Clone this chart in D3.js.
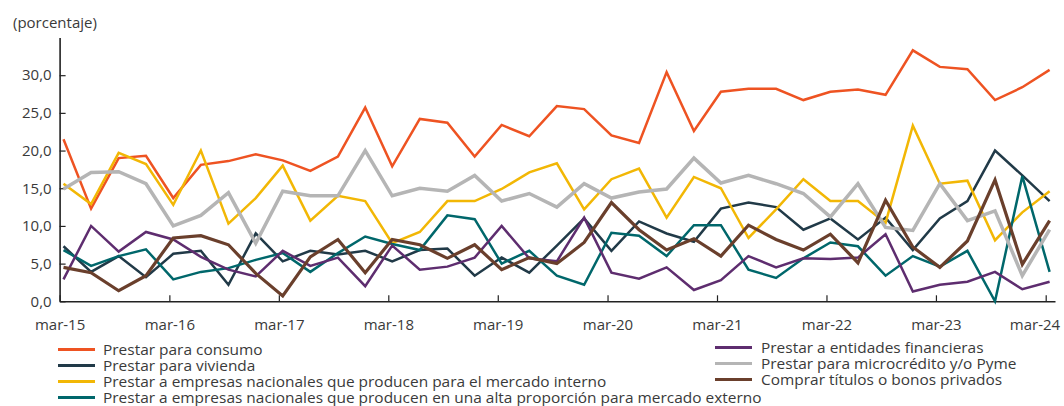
<!DOCTYPE html>
<html>
<head>
<meta charset="utf-8">
<script src="https://cdn.jsdelivr.net/npm/d3@7"></script>
<style>
  body { margin: 0; background: #fff; }
  svg { display: block; font-family: "Open Sans", sans-serif; }
</style>
</head>
<body>
<svg id="chart" width="1064" height="406"></svg>
<script>
// quarterly observations (mar, jun, sep, dec)
const quarters = [
  '2015-03', '2015-06', '2015-09', '2015-12',
  '2016-03', '2016-06', '2016-09', '2016-12',
  '2017-03', '2017-06', '2017-09', '2017-12',
  '2018-03', '2018-06', '2018-09', '2018-12',
  '2019-03', '2019-06', '2019-09', '2019-12',
  '2020-03', '2020-06', '2020-09', '2020-12',
  '2021-03', '2021-06', '2021-09', '2021-12',
  '2022-03', '2022-06', '2022-09', '2022-12',
  '2023-03', '2023-06', '2023-09', '2023-12',
  '2024-03'
];

const consumo = [21.5, 12.3, 19.0, 19.3, 13.7, 18.1, 18.6, 19.5, 18.7, 17.3, 19.2,
  25.7, 17.9, 24.2, 23.7, 19.2, 23.4, 21.9, 25.9, 25.5, 22.0, 21.0, 30.4, 22.6,
  27.8, 28.2, 28.2, 26.7, 27.8, 28.1, 27.4, 33.3, 31.1, 30.8, 26.7, 28.4, 30.7];

const vivienda = [7.3, 3.9, 6.0, 3.2, 6.3, 6.7, 2.2, 9.0, 5.3, 6.7, 6.2,
  6.7, 5.3, 6.8, 7.0, 3.4, 5.8, 3.8, 7.4, 11.0, 6.7, 10.6, 9.0, 7.9,
  12.3, 13.1, 12.5, 9.5, 11.0, 8.2, 11.1, 6.8, 11.0, 13.3, 20.0, 16.7, 13.3];

const interno = [15.6, 12.9, 19.7, 18.2, 12.8, 20.0, 10.3, 13.7, 18.0, 10.7, 14.0,
  13.3, 7.7, 9.2, 13.3, 13.3, 14.9, 17.1, 18.3, 12.2, 16.2, 17.6, 11.1, 16.5,
  15.0, 8.4, 12.2, 16.2, 13.3, 13.3, 10.4, 23.3, 15.6, 16.0, 8.1, 11.8, 14.6];

const externo = [6.8, 4.7, 6.0, 6.9, 2.9, 3.9, 4.4, 5.5, 6.4, 3.9, 6.4,
  8.6, 7.6, 6.8, 11.4, 10.9, 5.0, 6.7, 3.4, 2.2, 9.1, 8.7, 6.0, 10.1,
  10.1, 4.2, 3.1, 5.7, 7.8, 7.3, 3.4, 6.0, 4.6, 6.7, 0.0, 16.6, 3.9];

const entidades = [2.9, 10.0, 6.6, 9.2, 8.2, 5.9, 4.2, 3.3, 6.7, 4.7, 5.8,
  2.0, 7.4, 4.2, 4.6, 5.8, 10.0, 5.7, 5.3, 11.1, 3.8, 3.0, 4.5, 1.5,
  2.8, 6.0, 4.5, 5.7, 5.6, 5.8, 8.9, 1.3, 2.2, 2.6, 3.9, 1.6, 2.6];

const microcredito = [14.9, 17.1, 17.2, 15.6, 10.0, 11.4, 14.4, 7.7, 14.6, 14.0, 14.0,
  20.0, 14.0, 15.0, 14.6, 16.7, 13.3, 14.3, 12.5, 15.6, 13.7, 14.5, 14.9, 19.0,
  15.7, 16.7, 15.6, 14.3, 11.2, 15.6, 9.8, 9.4, 15.6, 10.7, 12.0, 3.4, 9.5];

const bonos = [4.5, 3.8, 1.4, 3.4, 8.4, 8.7, 7.5, 3.7, 0.7, 5.9, 8.2,
  3.8, 8.2, 7.5, 5.7, 7.5, 4.2, 5.8, 5.0, 7.8, 13.1, 9.5, 6.8, 8.3,
  6.0, 10.1, 8.2, 6.8, 8.9, 5.1, 13.4, 7.2, 4.5, 8.0, 16.1, 4.9, 10.7];

const tickYears = [2015, 2016, 2017, 2018, 2019, 2020, 2021, 2022, 2023, 2024];
const yTicks = [0, 5, 10, 15, 20, 25, 30];

const series = [
  { name: 'Prestar para consumo', values: consumo, color: '#EE5322', width: 2.5, col: 0, row: 0 },
  { name: 'Prestar para vivienda', values: vivienda, color: '#213A48', width: 2.5, col: 0, row: 1 },
  { name: 'Prestar a empresas nacionales que producen para el mercado interno', values: interno, color: '#F2B705', width: 2.5, col: 0, row: 2 },
  { name: 'Prestar a empresas nacionales que producen en una alta proporción para mercado externo', values: externo, color: '#00676B', width: 2.5, col: 0, row: 3 },
  { name: 'Prestar a entidades financieras', values: entidades, color: '#5E2D6F', width: 2.5, col: 1, row: 0 },
  { name: 'Prestar para microcrédito y/o Pyme', values: microcredito, color: '#B5B5B5', width: 3.5, col: 1, row: 1 },
  { name: 'Comprar títulos o bonos privados', values: bonos, color: '#6A3F2C', width: 3.2, col: 1, row: 2 }
];

const svg = d3.select('#chart');
const parseQ = d3.timeParse('%Y-%m-%d');
const dates = quarters.map((q) => parseQ(q + '-14')); // points sit mid-month

const x = d3.scaleTime()
  .domain([new Date(2015, 2, 1), new Date(2024, 3, 1)])
  .range([59.6, 1055]);

const y = d3.scaleLinear()
  .domain([0, 35])
  .range([301.3, 37.5]);

const textColor = '#3a3a3a';

// y axis
const yAxis = svg.append('g')
  .attr('transform', `translate(${x.range()[0]},0)`)
  .call(d3.axisLeft(y).tickValues(yTicks).tickSizeInner(-6).tickSizeOuter(0).tickPadding(8)
    .tickFormat((d) => d3.format('.1f')(d).replace('.', ',')));

// x axis
const xAxis = svg.append('g')
  .attr('transform', `translate(0,${y(0)})`)
  .call(d3.axisBottom(x)
    .tickValues(tickYears.map((yr) => new Date(yr, 2, 1)))
    .tickSizeInner(-6).tickSizeOuter(0).tickPadding(18)
    .tickFormat((d) => 'mar-' + d3.timeFormat('%y')(d)));

[yAxis, xAxis].forEach((g) => {
  g.select('.domain').attr('stroke', '#222').attr('stroke-width', 1.6);
  g.selectAll('.tick line').attr('stroke', '#222').attr('stroke-width', 1.2);
  g.selectAll('.tick text')
    .attr('fill', textColor)
    .style('font-family', '"Open Sans", sans-serif')
    .style('font-size', '15px');
});
// last label is pulled in so it stays inside the frame
xAxis.selectAll('.tick text')
  .filter((d, i, nodes) => i === nodes.length - 1)
  .attr('text-anchor', 'end')
  .attr('x', 14);

// unit label
svg.append('text')
  .attr('x', 13)
  .attr('y', 28)
  .attr('fill', textColor)
  .style('font-size', '15px')
  .text('(porcentaje)');

// lines
const line = d3.line()
  .x((d, i) => x(dates[i]))
  .y((d) => y(d));

svg.append('g')
  .selectAll('path')
  .data(series)
  .enter()
  .append('path')
  .attr('fill', 'none')
  .attr('stroke', (d) => d.color)
  .attr('stroke-width', (d) => d.width)
  .attr('stroke-linejoin', 'miter')
  .attr('d', (d) => line(d.values));

// legend
const legendCols = [{ sx: 58, tx: 103, y0: 349.5 }, { sx: 715, tx: 761, y0: 347.5 }];
const rowStep = 16;

const legend = svg.append('g')
  .selectAll('g')
  .data(series)
  .enter()
  .append('g')
  .attr('transform', (d) => `translate(0,${legendCols[d.col].y0 + d.row * rowStep})`);

legend.append('line')
  .attr('x1', (d) => legendCols[d.col].sx)
  .attr('x2', (d) => legendCols[d.col].sx + 37)
  .attr('stroke', (d) => d.color)
  .attr('stroke-width', 3);

const legendText = legend.append('text')
  .attr('dy', '0.35em')
  .attr('fill', textColor)
  .style('font-size', '15px')
  .text((d) => d.name);

// the legend face is condensed: squeeze to the reference width
const longest = legendText.filter((d) => d.row === 3).node().getComputedTextLength();
const squeeze = 659 / longest;
legendText.attr('transform', (d) => `translate(${legendCols[d.col].tx},0) scale(${squeeze},1)`);
</script>
</body>
</html>
